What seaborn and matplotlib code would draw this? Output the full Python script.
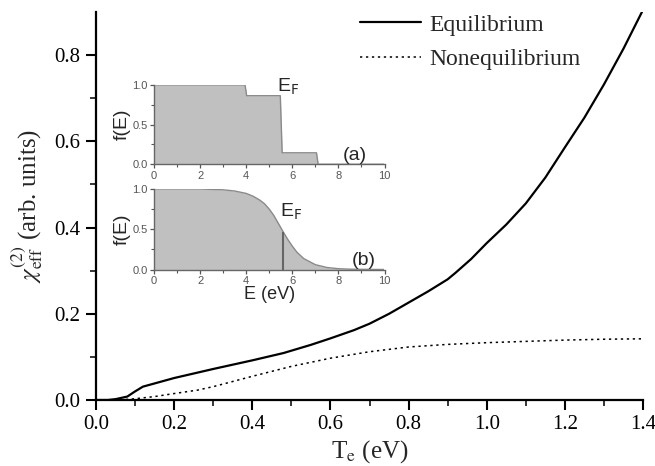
import numpy as np
import pandas as pd
import matplotlib
matplotlib.use("Agg")
import matplotlib.pyplot as plt
import seaborn as sns

# ---- data ----
te_eq = [0.00, 0.03, 0.05, 0.08, 0.10, 0.12, 0.16, 0.20, 0.30, 0.40, 0.48, 0.55,
         0.60, 0.66, 0.70, 0.75, 0.80, 0.85, 0.90, 0.92, 0.96, 1.00, 1.05, 1.10,
         1.15, 1.20, 1.25, 1.30, 1.35, 1.40]
chi_eq = [0.000, 0.000, 0.002, 0.008, 0.020, 0.031, 0.041, 0.051, 0.072, 0.092, 0.109, 0.128,
          0.143, 0.162, 0.177, 0.200, 0.226, 0.252, 0.280, 0.295, 0.327, 0.364, 0.407, 0.456,
          0.516, 0.586, 0.655, 0.732, 0.815, 0.905]

te_neq = [0.00, 0.06, 0.10, 0.15, 0.20, 0.26, 0.30, 0.40, 0.50, 0.60, 0.70, 0.80,
          0.90, 1.00, 1.10, 1.20, 1.30, 1.40]
chi_neq = [0.000, 0.000, 0.003, 0.008, 0.015, 0.023, 0.031, 0.055, 0.078, 0.097, 0.112, 0.123,
           0.129, 0.133, 0.136, 0.139, 0.141, 0.142]

# inset (a): nonequilibrium step distribution
e_a = [0.0, 3.95, 4.02, 5.48, 5.56, 7.05, 7.12, 10.0]
f_a = [1.0, 1.0, 0.865, 0.865, 0.145, 0.145, 0.0, 0.0]

# inset (b): equilibrium (Fermi-like) distribution
e_b = [0.0, 1.0, 2.0, 3.0, 3.5, 4.0, 4.3, 4.6, 4.8, 5.0, 5.2, 5.4, 5.6, 5.8, 6.0,
       6.2, 6.5, 7.0, 7.5, 8.0, 8.5, 9.0, 10.0]
f_b = [1.0, 1.0, 1.0, 0.99, 0.975, 0.945, 0.91, 0.86, 0.815, 0.75, 0.67, 0.57, 0.47,
       0.375, 0.29, 0.215, 0.135, 0.06, 0.025, 0.01, 0.004, 0.002, 0.0]
e_fermi = 5.6
f_at_fermi = 0.47

x_ticks = [0.0, 0.2, 0.4, 0.6, 0.8, 1.0, 1.2, 1.4]
y_ticks = [0.0, 0.2, 0.4, 0.6, 0.8]
legend_labels = ["Equilibrium", "Nonequilibrium"]

# ---- style ----
sns.set_style("ticks")
plt.rcParams["font.family"] = ["Liberation Serif", "DejaVu Serif"]
plt.rcParams["mathtext.fontset"] = "stix"

fig = plt.figure(figsize=(6.55, 4.66), dpi=100)
ax = fig.add_axes([0.1466, 0.1416, 0.8351, 0.8326])

df_eq = pd.DataFrame({"Te": te_eq, "chi": chi_eq})
df_neq = pd.DataFrame({"Te": te_neq, "chi": chi_neq})
sns.lineplot(data=df_eq, x="Te", y="chi", ax=ax, color="black", lw=1.6,
             label=legend_labels[0], legend=False)
sns.lineplot(data=df_neq, x="Te", y="chi", ax=ax, color="black", lw=1.1,
             linestyle=(0, (1.5, 2.4)), label=legend_labels[1], legend=False)

ax.set_xlim(0, 1.4)
ax.set_ylim(0, 0.9)
ax.set_xticks(x_ticks)
ax.set_yticks(y_ticks)
ax.set_xticklabels([f"{v:.1f}" for v in x_ticks])
ax.set_yticklabels([f"{v:.1f}" for v in y_ticks])
ax.set_xticks(np.arange(0.1, 1.4, 0.2), minor=True)
ax.set_yticks(np.arange(0.1, 0.9, 0.2), minor=True)
ax.tick_params(which="major", direction="out", length=7, width=1.5, labelsize=15,
               colors="black", pad=4)
ax.tick_params(which="minor", direction="out", length=4, width=1.3)
for s in ["left", "bottom"]:
    ax.spines[s].set_linewidth(1.6)
    ax.spines[s].set_color("black")
sns.despine(ax=ax)
ax.set_xlabel(r"T$_{\rm e}$ (eV)", fontsize=18, labelpad=3)
ax.set_ylabel(r"$\chi^{(2)}_{\rm eff}$ (arb. units)", fontsize=18, labelpad=7)

h, l = ax.get_legend_handles_labels()
fig.legend(h, l, loc="upper left", bbox_to_anchor=(360 / 655, 1 - 14 / 466),
           frameon=False, fontsize=17, handlelength=2.6, handletextpad=0.35,
           borderpad=0, borderaxespad=0, labelspacing=0.55)

# ---- insets ----
gray_fill = "#c0c0c0"
gray_edge = "#8a8a8a"
sans = ["Liberation Sans", "DejaVu Sans"]


def style_inset(a, show_xlabel):
    a.set_xlim(0, 10)
    a.set_ylim(0, 1.0)
    a.set_xticks([0, 2, 4, 6, 8, 10])
    a.set_xticks([1, 3, 5, 7, 9], minor=True)
    a.set_yticks([0.0, 0.5, 1.0])
    a.set_yticks([0.25, 0.75], minor=True)
    a.set_xticklabels(["0", "2", "4", "6", "8", "10"], fontfamily=sans, fontsize=8)
    a.set_yticklabels(["0.0", "0.5", "1.0"], fontfamily=sans, fontsize=8)
    a.tick_params(which="major", direction="out", length=3, width=0.9,
                  colors="#555555", pad=1.5)
    a.tick_params(which="minor", direction="out", length=2, width=0.8, colors="#555555")
    for s in ["left", "bottom"]:
        a.spines[s].set_color("#666666")
        a.spines[s].set_linewidth(1.0)
    sns.despine(ax=a)
    a.patch.set_alpha(0)
    a.set_ylabel("f(E)", fontfamily=sans, fontsize=14, labelpad=1)
    if show_xlabel:
        a.set_xlabel("E (eV)", fontfamily=sans, fontsize=13, labelpad=0)
    else:
        a.set_xlabel("")


ax_a = fig.add_axes([154 / 655, 1 - 164.3 / 466, 230.5 / 655, 79.3 / 466])
ax_a.fill_between(e_a, f_a, 0, color=gray_fill, lw=0)
sns.lineplot(x=e_a, y=f_a, ax=ax_a, color=gray_edge, lw=1.0, estimator=None, sort=False)
style_inset(ax_a, False)
ax_a.text(5.35, 0.92, r"E$_{\rm F}$", fontfamily=sans, fontsize=14,
          math_fontfamily="dejavusans")
ax_a.text(8.2, 0.06, "(a)", fontfamily=sans, fontsize=14)

ax_b = fig.add_axes([154 / 655, 1 - 269.5 / 466, 230.5 / 655, 80.5 / 466])
ax_b.fill_between(e_b, f_b, 0, color=gray_fill, lw=0)
sns.lineplot(x=e_b, y=f_b, ax=ax_b, color=gray_edge, lw=1.0, estimator=None, sort=False)
ax_b.vlines(e_fermi, 0, f_at_fermi, color="#666666", lw=1.5)
style_inset(ax_b, True)
ax_b.text(5.45, 0.66, r"E$_{\rm F}$", fontfamily=sans, fontsize=14,
          math_fontfamily="dejavusans")
ax_b.text(8.6, 0.06, "(b)", fontfamily=sans, fontsize=14)

fig.savefig("out.png", dpi=100)
